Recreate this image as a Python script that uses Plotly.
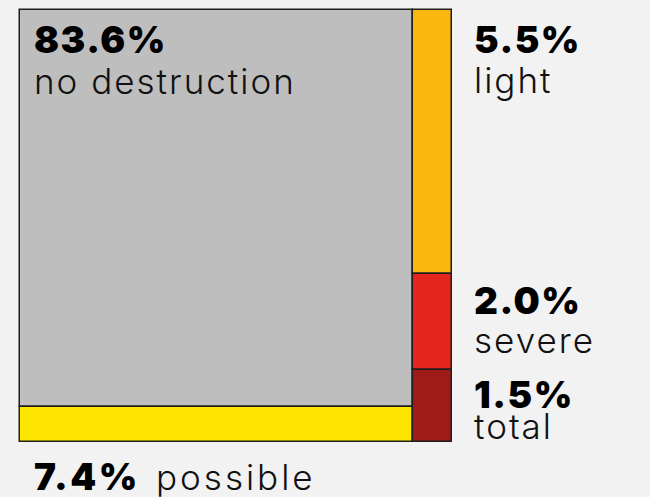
import plotly.graph_objects as go

# Share of buildings by damage level (percent)
categories = ["no destruction", "possible", "light", "severe", "total"]
shares = [83.6, 7.4, 5.5, 2.0, 1.5]
colors = ["#bebebe", "#ffe600", "#fab80f", "#e3251f", "#9e1b17"]

# Column grouping of the tiles: left column and right column (top to bottom)
left_col = ["no destruction", "possible"]
right_col = ["light", "severe", "total"]

share = dict(zip(categories, shares))
color = dict(zip(categories, colors))
total_all = sum(shares)

fig = go.Figure()

tiles = {}
x0 = 0.0
for col in (left_col, right_col):
    col_sum = sum(share[c] for c in col)
    w = col_sum / total_all
    top = 1.0
    for c in col:
        h = share[c] / col_sum
        base = top - h
        tiles[c] = (x0, x0 + w, base, top)
        fig.add_trace(go.Bar(
            x=[x0 + w / 2], y=[h], base=[base], width=[w],
            marker=dict(color=color[c], line=dict(color="#1e1e1e", width=1.5)),
            hoverinfo="skip", showlegend=False, cliponaxis=False,
        ))
        top = base
    x0 += w

FONT = "Inter"
BIG_SIZE, SMALL_SIZE = 37, 35
BIG = dict(family=FONT, size=BIG_SIZE, color="#000000", weight=900)
SMALL = dict(family=FONT, size=SMALL_SIZE, color="#111111", weight=300)


def pct(c):
    return f"{share[c]:.1f}%"


def big_txt(s, sp=1.5):
    return f"<span style='letter-spacing:{sp}px'>{s}</span>"


def small_txt(s, sp=2):
    return f"<span style='letter-spacing:{sp}px'>{s}</span>"


def add_text(text, font, x, y, dx, dy):
    fig.add_annotation(x=x, y=y, xref="x", yref="y", text=text, font=font,
                       showarrow=False, xanchor="left", yanchor="top",
                       xshift=dx, yshift=dy)


def label(c, x, y, dx, dy_big, dy_small):
    add_text(big_txt(pct(c)), BIG, x, y, dx, dy_big)
    add_text(small_txt(c), SMALL, x, y, dx, dy_small)


# main tile label inside the tile
l, r, b, t = tiles["no destruction"]
label("no destruction", l, t, 12, -5, -48)

# right column labels beside their tiles
for c, dyb, dys in (("light", -5, -47), ("severe", -2, -43), ("total", 0, -33)):
    l, r, b, t = tiles[c]
    label(c, r, t, 20, dyb, dys)

# label under the bottom strip: value and name on one line
l, r, b, t = tiles["possible"]
add_text(big_txt(pct("possible"), 2.5), BIG, l, b, 12, -10)
add_text(small_txt("possible", 3), SMALL, l, b, 134, -12)

# pad the axes by two pixels so the outer tile border is not clipped
pad = 2 / 432
fig.update_layout(
    width=650, height=497,
    margin=dict(l=18, r=196, t=8, b=53),
    paper_bgcolor="#f2f2f3", plot_bgcolor="#f2f2f3",
    barmode="overlay", bargap=0,
    xaxis=dict(range=[-pad, 1 + pad], visible=False, fixedrange=True),
    yaxis=dict(range=[-pad, 1 + pad], visible=False, fixedrange=True),
)

fig.write_html("out.html")
